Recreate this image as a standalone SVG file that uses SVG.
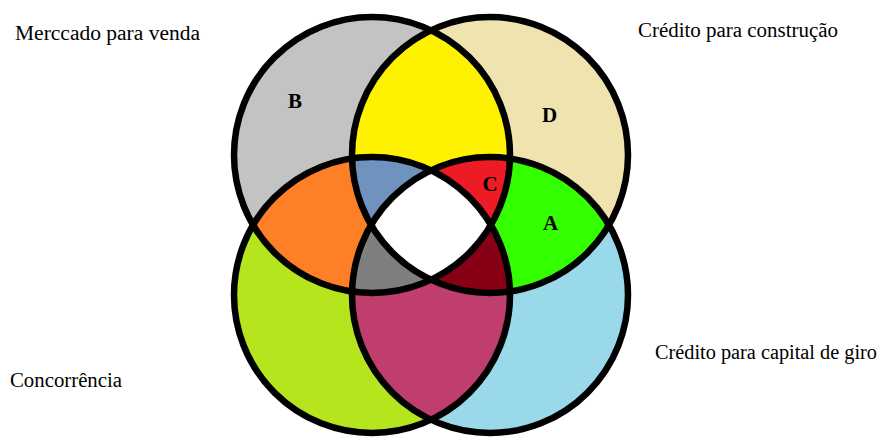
<svg xmlns="http://www.w3.org/2000/svg" width="881" height="441" viewBox="0 0 881 441">
<style>
.lbl{font-family:"Liberation Serif","Times New Roman",serif;font-size:20px;fill:#000}
.let{font-family:"Liberation Serif","Times New Roman",serif;font-size:21px;font-weight:bold;fill:#000;text-anchor:middle}
.ring{fill:none;stroke:#000;stroke-width:6.5}
</style>
<defs>
<clipPath id="cG"><circle cx="372" cy="155" r="138"/></clipPath>
<clipPath id="cB"><circle cx="490" cy="155" r="138"/></clipPath>
<clipPath id="cL"><circle cx="372" cy="295" r="138"/></clipPath>
<clipPath id="cR"><circle cx="490" cy="295" r="138"/></clipPath>
</defs>
<rect width="881" height="441" fill="#fff"/>
<g id="fills">
<circle cx="372" cy="155" r="138" fill="#C3C3C3"/>
<circle cx="490" cy="155" r="138" fill="#EFE4B0"/>
<circle cx="372" cy="295" r="138" fill="#B5E61D"/>
<circle cx="490" cy="295" r="138" fill="#99D9EA"/>
<circle cx="490" cy="155" r="138" fill="#FFF200" clip-path="url(#cG)"/>
<circle cx="372" cy="295" r="138" fill="#FF7F27" clip-path="url(#cG)"/>
<circle cx="490" cy="295" r="138" fill="#33FF00" clip-path="url(#cB)"/>
<circle cx="490" cy="295" r="138" fill="#BF3E6E" clip-path="url(#cL)"/>
<g clip-path="url(#cG)"><circle cx="372" cy="295" r="138" fill="#7092BE" clip-path="url(#cB)"/></g>
<g clip-path="url(#cG)"><circle cx="490" cy="295" r="138" fill="#ED1C24" clip-path="url(#cB)"/></g>
<g clip-path="url(#cG)"><circle cx="490" cy="295" r="138" fill="#7F7F7F" clip-path="url(#cL)"/></g>
<g clip-path="url(#cB)"><circle cx="490" cy="295" r="138" fill="#880015" clip-path="url(#cL)"/></g>
<g clip-path="url(#cG)"><g clip-path="url(#cB)"><circle cx="490" cy="295" r="138" fill="#FFFFFF" clip-path="url(#cL)"/></g></g>
</g>
<g id="mercado"><circle class="ring" cx="372" cy="155" r="138"/><text class="lbl" x="15" y="40" textLength="185" lengthAdjust="spacingAndGlyphs">Merccado para venda</text><text class="let" x="295" y="108">B</text></g>
<g id="construcao"><circle class="ring" cx="490" cy="155" r="138"/><text class="lbl" x="638" y="37" textLength="200" lengthAdjust="spacingAndGlyphs">Crédito para construção</text><text class="let" x="549.5" y="122">D</text></g>
<g id="concorrencia"><circle class="ring" cx="372" cy="295" r="138"/><text class="lbl" x="10" y="387" textLength="112" lengthAdjust="spacingAndGlyphs">Concorrência</text></g>
<g id="capital"><circle class="ring" cx="490" cy="295" r="138"/><text class="lbl" x="655" y="359" textLength="222" lengthAdjust="spacingAndGlyphs">Crédito para capital de giro</text></g>
<g id="regions"><text class="let" x="490" y="191">C</text><text class="let" x="550.5" y="230">A</text></g>
<g id="connectors"/>
</svg>
